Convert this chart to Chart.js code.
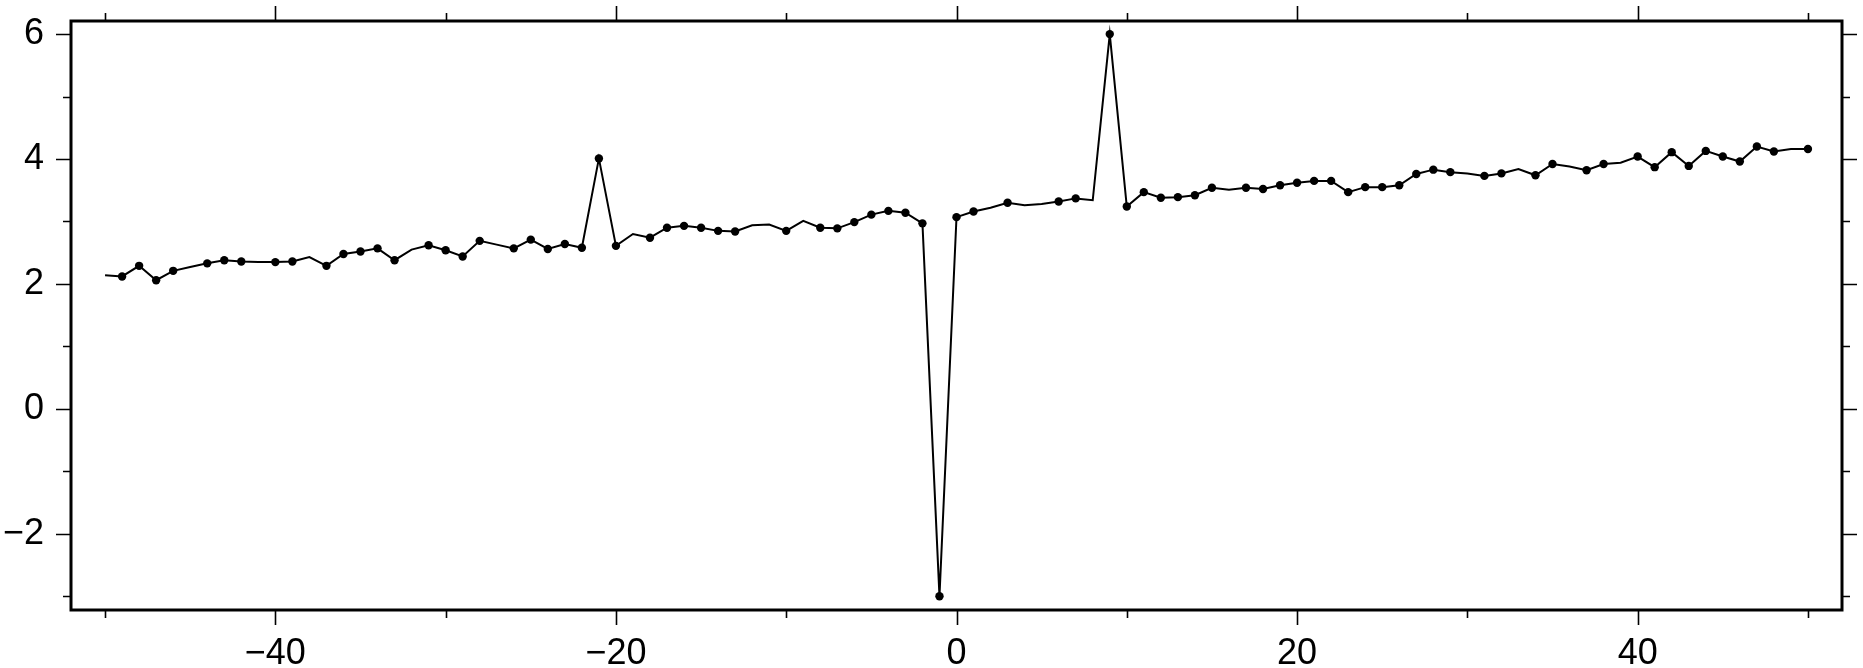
<!DOCTYPE html>
<html>
<head>
<meta charset="utf-8">
<script src="https://cdn.jsdelivr.net/npm/chart.js@4/dist/chart.umd.min.js"></script>
<style>
  html, body { margin: 0; padding: 0; background: #fff; }
  canvas { display: block; }
</style>
</head>
<body>
<canvas id="c" width="1863" height="668"></canvas>
<script>
// ---- data ----
const xValues = [
  -50,-49,-48,-47,-46,-45,-44,-43,-42,-41,
  -40,-39,-38,-37,-36,-35,-34,-33,-32,-31,
  -30,-29,-28,-27,-26,-25,-24,-23,-22,-21,
  -20,-19,-18,-17,-16,-15,-14,-13,-12,-11,
  -10,-9,-8,-7,-6,-5,-4,-3,-2,-1,
  0,1,2,3,4,5,6,7,8,9,
  10,11,12,13,14,15,16,17,18,19,
  20,21,22,23,24,25,26,27,28,29,
  30,31,32,33,34,35,36,37,38,39,
  40,41,42,43,44,45,46,47,48,49,50
];
const yValues = [
  2.14,2.12,2.29,2.06,2.21,2.27,2.33,2.38,2.36,2.35,
  2.35,2.36,2.43,2.29,2.48,2.52,2.57,2.38,2.55,2.62,
  2.54,2.44,2.69,2.63,2.57,2.71,2.56,2.64,2.58,4.01,
  2.61,2.80,2.74,2.90,2.93,2.90,2.85,2.84,2.94,2.95,
  2.85,3.01,2.90,2.89,2.99,3.11,3.17,3.14,2.97,-3.00,
  3.07,3.16,3.22,3.30,3.26,3.28,3.32,3.37,3.34,6.00,
  3.24,3.47,3.38,3.39,3.42,3.54,3.51,3.54,3.52,3.58,
  3.62,3.65,3.65,3.47,3.55,3.55,3.58,3.76,3.83,3.79,
  3.77,3.73,3.77,3.84,3.74,3.92,3.88,3.82,3.92,3.94,
  4.04,3.87,4.11,3.89,4.13,4.04,3.96,4.20,4.12,4.16,4.16
];
// x positions whose point carries no marker (line passes through)
const unmarkedX = [-50,-45,-41,-38,-32,-27,-19,-12,-11,-9,2,4,5,8,16,30,33,36,39,49];
const xTickValues = [-50,-40,-30,-20,-10,0,10,20,30,40,50];
const xLabelStep = 20;
const yTickValues = [-3,-2,-1,0,1,2,3,4,5,6];
const yLabelStep = 2;

// ---- helpers ----
const fmt = v => (v < 0 ? '\u2212' + Math.abs(v) : String(v));
const FONT = { family: "'Liberation Sans', Helvetica, Arial, sans-serif", size: 36 };

const framePlugin = {
  id: 'gmtFrame',
  afterDraw(chart) {
    const { ctx, chartArea: a, scales } = chart;
    const xs = scales.x, ys = scales.y;
    ctx.save();
    ctx.strokeStyle = '#000';
    ctx.lineCap = 'butt';
    ctx.lineWidth = 1.6;
    ctx.beginPath();
    xTickValues.forEach(v => {
      const p = Math.round(xs.getPixelForValue(v)) + 0.5;
      const len = (v % xLabelStep === 0) ? 15 : 8;
      ctx.moveTo(p, a.bottom); ctx.lineTo(p, a.bottom + len);
      ctx.moveTo(p, a.top); ctx.lineTo(p, a.top - len);
    });
    yTickValues.forEach(v => {
      const p = Math.round(ys.getPixelForValue(v)) + 0.5;
      const len = (v % yLabelStep === 0) ? 15 : 8;
      ctx.moveTo(a.left, p); ctx.lineTo(a.left - len, p);
      ctx.moveTo(a.right, p); ctx.lineTo(a.right + len, p);
    });
    ctx.stroke();
    ctx.lineWidth = 3;
    ctx.strokeRect(a.left, a.top, a.right - a.left, a.bottom - a.top);
    ctx.restore();
  }
};

new Chart(document.getElementById('c'), {
  type: 'line',
  data: {
    datasets: [{
      data: xValues.map((x, i) => ({ x: x, y: yValues[i] })),
      borderColor: '#000',
      borderWidth: 2,
      backgroundColor: '#000',
      pointBackgroundColor: '#000',
      pointBorderWidth: 0,
      pointRadius: c => unmarkedX.includes(xValues[c.dataIndex]) ? 0 : 4.2,
      tension: 0,
      fill: false,
      clip: false
    }]
  },
  options: {
    responsive: false,
    animation: false,
    devicePixelRatio: 1,
    events: [],
    layout: { padding: { top: 21, right: 21, left: 0, bottom: 0 } },
    plugins: { legend: { display: false }, tooltip: { enabled: false } },
    scales: {
      x: {
        type: 'linear',
        position: 'bottom',
        min: -52, max: 52,
        grid: { display: false, drawTicks: false },
        border: { display: false },
        afterBuildTicks: s => { s.ticks = xTickValues.map(v => ({ value: v })); },
        afterFit: s => { s.height = 58; s.paddingLeft = 0; s.paddingRight = 0; },
        ticks: {
          autoSkip: false, maxRotation: 0, minRotation: 0,
          padding: 22,
          color: '#000',
          font: FONT,
          callback: v => (v % xLabelStep === 0 ? fmt(v) : '')
        }
      },
      y: {
        type: 'linear',
        position: 'left',
        min: -3.22, max: 6.21,
        grid: { display: false, drawTicks: false },
        border: { display: false },
        afterBuildTicks: s => { s.ticks = yTickValues.map(v => ({ value: v })); },
        afterFit: s => { s.width = 71; s.paddingTop = 0; s.paddingBottom = 0; },
        ticks: {
          autoSkip: false,
          padding: 27,
          color: '#000',
          font: FONT,
          callback: v => (v % yLabelStep === 0 ? fmt(v) : '')
        }
      }
    }
  },
  plugins: [framePlugin]
});
</script>
</body>
</html>
